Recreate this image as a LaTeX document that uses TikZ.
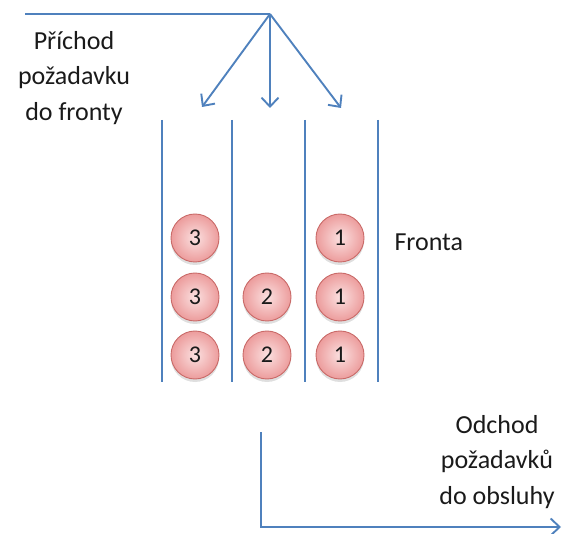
\documentclass[tikz,border=0pt]{standalone}
\usepackage{fontspec}
\setmainfont{Carlito}
\usetikzlibrary{arrows.meta,shadows}
\definecolor{lineblue}{HTML}{4F81BD}
\definecolor{ballrim}{HTML}{C0504D}
\definecolor{ballin}{HTML}{FBE0E0}
\definecolor{ballout}{HTML}{EC9C9C}
\definecolor{txt}{HTML}{1A1A1A}
\tikzset{
  flow/.style={draw=lineblue, line width=1.9pt},
  tip/.style={-{Straight Barb[length=9pt,width=17pt,line width=1.9pt]}},
  wall/.style={draw=lineblue, line width=1.5pt},
  ball/.style={circle, minimum size=48pt, inner sep=0pt, draw=ballrim!85, line width=0.9pt,
    inner color=ballin, outer color=ballout,
    drop shadow={shadow xshift=0pt, shadow yshift=-3pt, opacity=0.25},
    font=\fontsize{24}{26}\selectfont, text=txt},
  label/.style={align=center, font=\fontsize{26}{35.5}\selectfont, text=txt}
}
\begin{document}
\begin{tikzpicture}[x=1pt,y=-1pt]
  \useasboundingbox (0,0) rectangle (562,534);
  % arrival
  \coordinate (start) at (25,14);
  \coordinate (apex) at (270,14);
  \coordinate (q1) at (202,107);
  \coordinate (q2) at (270,108);
  \coordinate (q3) at (341,108);
  \draw[flow] (start) -- (apex);
  \draw[flow,tip] (apex) -- (q1);
  \draw[flow,tip] (apex) -- (q2);
  \draw[flow,tip] (apex) -- (q3);
  \node[label] (arrive) at (74,78) {Příchod\\požadavku\\do fronty};
  % queue walls
  \foreach \x [count=\i] in {162,232,305,378} {
    \coordinate (wt\i) at (\x,120);
    \coordinate (wb\i) at (\x,382);
    \draw[wall] (wt\i) -- (wb\i);
  }
  % requests
  \node[ball] (a1) at (195,238) {3};
  \node[ball] (a2) at (195,297) {3};
  \node[ball] (a3) at (195,355) {3};
  \node[ball] (b2) at (267,297) {2};
  \node[ball] (b3) at (267,355) {2};
  \node[ball] (c1) at (340,238) {1};
  \node[ball] (c2) at (340,297) {1};
  \node[ball] (c3) at (340,355) {1};
  \node[label, anchor=west] (queue) at (391,242) {Fronta};
  % departure
  \coordinate (down) at (261,432);
  \coordinate (corner) at (261,527);
  \coordinate (out) at (561,527);
  \draw[flow,tip] (down) -- (corner) -- (out);
  \node[label] (leave) at (497,462) {Odchod\\požadavků\\do obsluhy};
\end{tikzpicture}
\end{document}
